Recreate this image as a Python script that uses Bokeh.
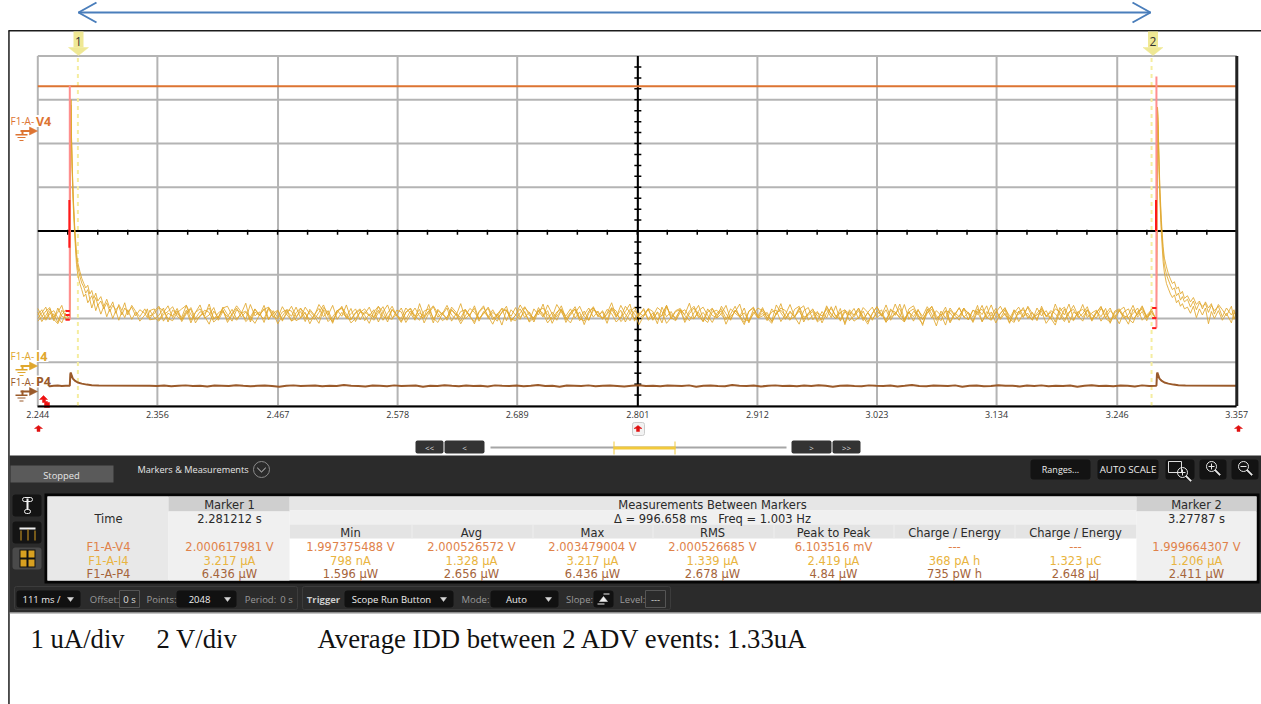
from bokeh.embed import file_html
from bokeh.resources import INLINE
from bokeh.plotting import figure
from bokeh.core.properties import value
from bokeh.models import Range1d, FixedTicker, LinearAxis
import numpy as np

# ---------- data ----------
tick_vals = [2.244, 2.355, 2.467, 2.578, 2.689, 2.801, 2.912, 3.023, 3.134, 3.246, 3.357]
tick_labels = ["2.244", "2.356", "2.467", "2.578", "2.689", "2.801", "2.912", "3.023", "3.134", "3.246", "3.357"]
marker_times = [2.281212, 3.27787]
trigger_times = [2.2737, 3.2824]
v4_t = [2.244, 3.357]
v4_v = [2.0005, 2.0005]

i4_pre_a = [1.30, 1.42, 1.21, 1.38, 1.17, 1.46, 1.27, 1.23]
i4_pre_b = [1.22, 1.35, 1.48, 1.19, 1.33, 1.13, 1.41, 1.29]
i4_pre_c = [1.37, 1.15, 1.29, 1.44, 1.25, 1.36, 1.52, 1.20]
i4_pre_d = [1.45, 1.28, 1.18, 1.33, 1.40, 1.24, 1.12, 1.35]
i4_pre_e = [1.16, 1.26, 1.39, 1.47, 1.20, 1.10, 1.31, 1.42]

decay_dt = [0, .0010, .0016, .0023, .0032, .0046, .0062, .0074, .0093, .0111, .0130, .0148, .0167, .0186, .0204,
            .0223, .0241, .0260, .0288, .0316, .0343, .0371, .0399, .0427, .0455, .0483, .0510, .0538, .0575,
            .0612, .0650, .0696, .0720, .0742]
d1_a = [1.23, 6.22, 5.30, 4.62, 3.93, 3.22, 2.61, 2.38, 2.19, 2.03, 1.94, 1.80, 1.88, 1.66, 1.74, 1.58, 1.70, 1.52,
        1.62, 1.44, 1.58, 1.38, 1.52, 1.42, 1.50, 1.30, 1.46, 1.36, 1.48, 1.28, 1.42, 1.34, 1.24, 1.40]
d1_b = [1.23, 6.22, 5.24, 4.50, 3.80, 3.10, 2.46, 2.22, 2.02, 1.88, 1.72, 1.78, 1.58, 1.66, 1.46, 1.60, 1.40, 1.54,
        1.32, 1.50, 1.26, 1.44, 1.22, 1.40, 1.18, 1.38, 1.24, 1.42, 1.20, 1.36, 1.16, 1.30, 1.44, 1.21]
d1_c = [1.20, 6.10, 5.36, 4.70, 4.00, 3.30, 2.72, 2.50, 2.30, 2.14, 2.02, 1.92, 1.98, 1.78, 1.86, 1.68, 1.80, 1.62,
        1.72, 1.50, 1.66, 1.46, 1.60, 1.34, 1.54, 1.40, 1.58, 1.30, 1.52, 1.38, 1.26, 1.44, 1.32, 1.19]
d2_a = [1.18, 6.05, 5.60, 4.85, 4.10, 3.32, 2.74, 2.44, 2.22, 2.10, 1.98, 1.88, 1.92, 1.74, 1.80, 1.64, 1.72, 1.60,
        1.66, 1.48, 1.62, 1.42, 1.58, 1.50, 1.56, 1.36, 1.52, 1.40, 1.50, 1.26, 1.46, 1.30, 1.42, 1.22]
d2_b = [1.18, 6.05, 5.50, 4.70, 3.92, 3.14, 2.52, 2.26, 2.02, 1.90, 1.78, 1.70, 1.76, 1.58, 1.64, 1.50, 1.56, 1.44,
        1.48, 1.34, 1.50, 1.24, 1.44, 1.30, 1.46, 1.10, 1.38, 1.22, 1.40, 1.18, 1.34, 1.12, 1.36, 1.28]
d2_c = [1.22, 6.00, 5.66, 4.96, 4.22, 3.46, 2.86, 2.60, 2.40, 2.24, 2.12, 2.02, 2.06, 1.90, 1.94, 1.78, 1.84, 1.68,
        1.74, 1.60, 1.70, 1.54, 1.62, 1.44, 1.60, 1.46, 1.56, 1.32, 1.54, 1.42, 1.28, 1.50, 1.20, 1.38]

i4_mid_a = [1.32,1.44,1.19,1.36,1.51,1.24,1.40,1.15,1.33,1.47,1.22,1.38,1.28,1.55,1.20,1.35,1.42,1.13,1.30,1.46,
            1.25,1.37,1.18,1.43,1.29,1.52,1.21,1.34,1.41,1.16,1.39,1.27,1.48,1.23,1.36,1.10,1.31,1.45,1.26,1.40,
            1.17,1.35,1.50,1.22,1.33,1.44,1.19,1.38,1.28,1.42,1.14,1.37,1.53,1.24,1.30,1.46,1.20,1.39,1.27,1.43,
            1.12,1.34,1.49,1.25,1.36,1.18,1.41,1.29,1.56,1.21,1.32,1.45,1.16,1.38,1.26,1.42,1.23,1.35,1.50,1.15,
            1.30,1.44,1.24,1.37,1.19,1.47,1.28,1.40,1.11,1.33,1.51,1.22,1.36,1.43,1.17,1.31,1.46,1.25,1.39,1.20,
            1.34,1.58,1.26,1.41,1.14,1.35,1.48,1.23,1.30,1.44,1.18,1.37,1.27,1.52,1.21,1.38,1.42,1.13,1.33,1.46,
            1.24,1.36,1.19,1.45,1.29,1.40,1.09,1.32,1.50,1.25,1.35,1.16,1.43,1.28,1.47,1.22,1.37,1.41,1.15,1.31,
            1.54,1.26,1.39,1.20,1.34,1.44,1.17,1.38,1.23,1.49,1.27,1.36,1.12,1.42,1.30,1.46,1.21,1.35,1.18,1.40,
            1.28,1.53,1.24,1.33,1.45,1.14,1.37,1.26,1.43,1.19,1.39,1.50,1.22,1.32,1.07,1.41,1.29,1.47,1.25,1.36,
            1.16,1.44,1.31,1.51,1.20,1.38,1.23,1.42,1.13,1.35,1.48,1.27,1.34,1.18,1.46,1.28,1.40,1.21,1.55,1.30,
            1.15,1.37,1.43,1.24,1.33,1.49,1.19,1.39,1.26,1.45,1.11,1.36,1.41,1.22,1.31,1.52,1.25,1.38,1.17,1.44]
i4_mid_b = [1.25,1.39,1.50,1.16,1.34,1.28,1.45,1.20,1.41,1.12,1.36,1.53,1.23,1.30,1.47,1.18,1.38,1.26,1.43,1.21,
            1.33,1.57,1.14,1.37,1.29,1.44,1.19,1.40,1.24,1.49,1.31,1.17,1.35,1.46,1.22,1.39,1.27,1.11,1.42,1.30,
            1.52,1.20,1.36,1.25,1.45,1.15,1.38,1.32,1.48,1.23,1.41,1.18,1.34,1.50,1.28,1.13,1.37,1.44,1.21,1.35,
            1.26,1.54,1.19,1.40,1.31,1.46,1.16,1.33,1.24,1.43,1.29,1.10,1.38,1.51,1.22,1.36,1.27,1.45,1.17,1.42,
            1.30,1.20,1.47,1.35,1.14,1.39,1.25,1.53,1.32,1.18,1.41,1.28,1.44,1.23,1.37,1.08,1.34,1.49,1.26,1.40,
            1.19,1.46,1.31,1.22,1.38,1.55,1.16,1.35,1.27,1.43,1.21,1.36,1.12,1.48,1.30,1.24,1.42,1.18,1.39,1.50,
            1.28,1.15,1.37,1.45,1.23,1.33,1.52,1.20,1.41,1.29,1.13,1.38,1.46,1.25,1.34,1.17,1.44,1.31,1.56,1.22,
            1.36,1.26,1.09,1.40,1.47,1.19,1.35,1.28,1.43,1.24,1.51,1.16,1.37,1.30,1.45,1.21,1.39,1.14,1.33,1.49,
            1.27,1.42,1.18,1.36,1.25,1.54,1.20,1.38,1.32,1.06,1.44,1.23,1.40,1.29,1.48,1.15,1.35,1.26,1.46,1.19,
            1.41,1.31,1.52,1.22,1.37,1.12,1.34,1.45,1.28,1.17,1.39,1.24,1.50,1.33,1.21,1.43,1.27,1.36,1.14,1.47,
            1.30,1.55,1.19,1.38,1.25,1.42,1.16,1.35,1.48,1.23,1.40,1.29,1.10,1.37,1.44,1.20,1.33,1.51,1.26,1.39]
i4_mid_c = [1.38,1.21,1.29,1.46,1.14,1.41,1.33,1.25,1.52,1.18,1.36,1.44,1.27,1.09,1.39,1.23,1.48,1.31,1.16,1.42,
            1.35,1.20,1.54,1.28,1.37,1.13,1.45,1.24,1.40,1.19,1.33,1.50,1.26,1.38,1.15,1.43,1.30,1.22,1.47,1.35,
            1.11,1.41,1.27,1.53,1.20,1.36,1.44,1.17,1.32,1.25,1.49,1.38,1.14,1.42,1.29,1.22,1.46,1.34,1.18,1.56,
            1.26,1.39,1.12,1.43,1.31,1.23,1.48,1.36,1.16,1.40,1.28,1.51,1.21,1.35,1.45,1.19,1.33,1.07,1.41,1.27,
            1.47,1.24,1.38,1.15,1.44,1.30,1.55,1.20,1.36,1.26,1.42,1.13,1.34,1.49,1.23,1.39,1.18,1.46,1.29,1.37,
            1.11,1.43,1.25,1.52,1.32,1.17,1.40,1.28,1.45,1.21,1.35,1.10,1.48,1.26,1.38,1.19,1.42,1.31,1.57,1.22,
            1.36,1.15,1.44,1.29,1.24,1.50,1.33,1.18,1.41,1.27,1.46,1.12,1.37,1.23,1.43,1.30,1.16,1.53,1.35,1.20,
            1.39,1.25,1.47,1.14,1.34,1.42,1.28,1.19,1.51,1.31,1.22,1.45,1.08,1.38,1.26,1.40,1.17,1.36,1.48,1.24,
            1.33,1.13,1.44,1.29,1.55,1.21,1.37,1.16,1.41,1.27,1.49,1.32,1.05,1.39,1.23,1.46,1.30,1.18,1.43,1.35,
            1.25,1.52,1.14,1.38,1.28,1.45,1.20,1.34,1.11,1.42,1.31,1.47,1.22,1.36,1.17,1.50,1.26,1.40,1.33,1.19,
            1.44,1.12,1.37,1.29,1.54,1.24,1.35,1.41,1.16,1.32,1.46,1.21,1.39,1.27,1.09,1.43,1.30,1.48,1.23,1.36]
i4_mid_d = [1.28,1.33,1.47,1.40,1.22,1.17,1.35,1.44,1.52,1.31,1.20,1.26,1.41,1.36,1.14,1.24,1.46,1.50,1.29,1.18,
            1.34,1.39,1.25,1.11,1.30,1.43,1.48,1.27,1.21,1.37,1.42,1.16,1.23,1.45,1.33,1.19,1.28,1.54,1.38,1.15,
            1.26,1.40,1.47,1.32,1.12,1.22,1.36,1.44,1.29,1.18,1.35,1.49,1.24,1.20,1.41,1.37,1.13,1.30,1.46,1.27,
            1.23,1.39,1.51,1.34,1.17,1.25,1.43,1.31,1.10,1.28,1.45,1.36,1.21,1.33,1.48,1.26,1.16,1.38,1.42,1.19,
            1.29,1.53,1.35,1.14,1.24,1.40,1.46,1.30,1.20,1.37,1.44,1.23,1.12,1.34,1.50,1.27,1.18,1.41,1.36,1.22,
            1.31,1.47,1.39,1.15,1.25,1.43,1.33,1.08,1.28,1.45,1.38,1.19,1.30,1.52,1.24,1.17,1.36,1.42,1.26,1.21,
            1.40,1.48,1.29,1.13,1.34,1.44,1.22,1.27,1.37,1.55,1.20,1.16,1.32,1.46,1.39,1.23,1.11,1.35,1.41,1.28,
            1.18,1.43,1.50,1.25,1.30,1.38,1.14,1.24,1.47,1.33,1.21,1.36,1.42,1.17,1.29,1.45,1.26,1.09,1.34,1.49,
            1.31,1.19,1.40,1.37,1.23,1.15,1.44,1.51,1.27,1.22,1.35,1.43,1.18,1.28,1.39,1.12,1.32,1.46,1.25,1.20,
            1.41,1.36,1.16,1.30,1.53,1.24,1.33,1.47,1.21,1.13,1.38,1.42,1.27,1.19,1.34,1.45,1.29,1.23,1.07,1.40,
            1.48,1.26,1.17,1.37,1.43,1.31,1.20,1.35,1.50,1.22,1.14,1.39,1.44,1.28,1.24,1.33,1.46,1.18,1.30,1.41]
i4_mid_e = [1.41,1.24,1.16,1.31,1.38,1.49,1.27,1.19,1.36,1.43,1.12,1.29,1.34,1.46,1.22,1.26,1.40,1.18,1.33,1.51,
            1.37,1.15,1.25,1.44,1.30,1.21,1.47,1.35,1.10,1.28,1.42,1.39,1.17,1.23,1.48,1.32,1.20,1.36,1.53,1.27,
            1.14,1.40,1.45,1.24,1.19,1.34,1.41,1.29,1.11,1.37,1.50,1.26,1.22,1.43,1.31,1.16,1.35,1.46,1.28,1.18,
            1.39,1.44,1.23,1.13,1.33,1.52,1.30,1.20,1.38,1.42,1.25,1.15,1.36,1.47,1.27,1.09,1.32,1.45,1.40,1.21,
            1.17,1.35,1.49,1.29,1.24,1.41,1.34,1.12,1.26,1.54,1.37,1.19,1.30,1.44,1.22,1.16,1.39,1.46,1.28,1.23,
            1.43,1.33,1.14,1.25,1.50,1.36,1.20,1.31,1.42,1.18,1.27,1.47,1.38,1.11,1.24,1.40,1.45,1.29,1.17,1.35,
            1.52,1.22,1.13,1.37,1.41,1.30,1.19,1.44,1.34,1.26,1.08,1.39,1.48,1.23,1.28,1.36,1.15,1.32,1.46,1.40,
            1.21,1.25,1.43,1.51,1.18,1.29,1.38,1.12,1.35,1.45,1.27,1.20,1.41,1.33,1.16,1.24,1.47,1.36,1.22,1.31,
            1.42,1.14,1.26,1.55,1.30,1.19,1.37,1.44,1.23,1.10,1.34,1.49,1.28,1.17,1.40,1.35,1.21,1.27,1.46,1.32,
            1.13,1.38,1.43,1.25,1.18,1.36,1.50,1.29,1.22,1.41,1.15,1.33,1.47,1.24,1.30,1.39,1.11,1.26,1.44,1.37,
            1.20,1.34,1.52,1.28,1.16,1.42,1.31,1.23,1.45,1.35,1.19,1.27,1.40,1.48,1.21,1.12,1.38,1.43,1.25,1.33]

p4_mid = [2.6,2.5,2.7,2.4,2.6,2.8,2.5,2.6,2.3,2.7,2.6,2.5,2.9,2.6,2.4,2.6,2.7,2.5,2.2,2.6,
          2.8,2.5,2.6,2.7,2.4,2.6,2.5,3.0,2.6,2.5,2.3,2.7,2.6,2.4,2.8,2.5,2.6,2.7,2.2,2.6,
          2.5,2.9,2.6,2.4,2.7,2.5,2.6,2.3,2.8,2.6,2.5,2.7,2.4,2.6,3.0,2.5,2.6,2.2,2.7,2.6,
          2.5,2.8,2.4,2.6,2.7,2.5,2.3,2.6,2.9,2.5,2.6,2.4,2.7,2.6,2.5,2.8,2.2,2.6,2.7,2.5,
          2.4,3.0,2.6,2.5,2.7,2.3,2.6,2.8,2.5,2.6,2.4,2.7,2.5,2.9,2.6,2.2,2.6,2.7,2.5,2.4,
          2.8,2.6,2.5,2.7,2.3,2.6,3.0,2.5,2.4,2.7,2.6,2.5,2.8,2.2,2.6,2.7,2.4,2.5,2.9,2.6,
          2.6,2.3,2.7,2.5,2.8,2.4,2.6,2.5,2.7,2.2,2.6,2.9,2.5,2.6,2.4,2.7,2.6,2.3,2.8,2.5]
p4_pre = [2.6, 2.5, 2.7, 2.4, 2.6, 2.7, 2.5, 2.6]
p4_dt = [0, .0005, .0009, .0019, .0028, .0046, .0074, .0111, .0158, .0204, .0269, .0742]
p4_peak = [2.6, 8.0, 8.64, 7.1, 5.9, 5.0, 4.1, 3.6, 3.15, 2.9, 2.7, 2.6]

red_top = [6.54, 6.75]
red_low = [1.19, 1.01]
red_solid_top = [3.93, 3.93]
red_solid_low = [2.84, 3.22]
rung_1 = [1.39, 1.30, 1.19]
rung_2 = [1.46, 1.23, 1.00]

# ---------- scales: the page-sized frame is in pixels, signals use named ranges ----------
T0, T1 = 2.244, 3.357
W, H = 1261, 704
PX_L, PX_R, PX_T, PX_B = 37.3, 1236.3, 55.5, 405.5      # plot area on the page
DIV = (PX_B - PX_T) / 8
SEC = (T1 - T0) / (PX_R - PX_L)

p = figure(width=W, height=H, output_backend="svg", toolbar_location=None,
           x_range=Range1d(0, W), y_range=Range1d(H, 0), x_axis_location=None, y_axis_location=None,
           min_border=0, background_fill_color="white", border_fill_color="white", outline_line_color=None)
p.grid.visible = False
I_BOT = -0.78
p.extra_x_ranges = {"t": Range1d(T0 - PX_L * SEC, T1 + (W - PX_R) * SEC)}
p.extra_y_ranges = {
    "i": Range1d(I_BOT - (H - PX_B) / DIV, I_BOT + PX_B / DIV),                 # 1 uA/div
    "v": Range1d(2 * (129.5 - H) / DIV, 2 * 129.5 / DIV),                       # 2 V/div
    "p": Range1d(20 * (391 - H) / DIV, 20 * 391 / DIV),                         # 20 uW/div
}
I_TOP = I_BOT + 8
TI = dict(x_range_name="t", y_range_name="i")


def box(l, t, r, b, color, radius=0, line=None, lw=1):
    p.quad(left=[l], right=[r], top=[t], bottom=[b], fill_color=color or "white", fill_alpha=1 if color else 0,
           line_color=line, line_width=lw, border_radius=radius)


def poly(xs, ys, color):
    p.patch(xs, ys, fill_color=color, line_color=color, line_width=0.5)


def txt(x, y, s, color="#222222", size=11.5, align="center", bold=False, font="DejaVu Sans"):
    p.text([x], [y], text=[s], text_color=color, text_font=value(font), text_font_size=f"{size}px",
           text_align=align, text_baseline="middle", text_font_style="bold" if bold else "normal")


UI = "Open Sans"
# graticule
GRID = "#b4b4b4"
yg = [I_BOT + k for k in range(9)]
p.segment(tick_vals, [I_BOT] * len(tick_vals), tick_vals, [I_TOP] * len(tick_vals), line_color=GRID, line_width=2, **TI)
p.segment([T0] * len(yg), yg, [T1] * len(yg), yg, line_color=GRID, line_width=2, **TI)

# markers
for tm in marker_times:
    p.segment([tm], [I_BOT], [tm], [I_TOP], line_color="#f5eda0", line_width=2, line_dash="4 4", **TI)

# centre cross
MID_T = tick_vals[5]
MID_I = I_BOT + 4
p.segment([MID_T], [I_BOT], [MID_T], [I_TOP], line_color="black", line_width=2, **TI)
p.segment([T0], [MID_I], [T1], [MID_I], line_color="black", line_width=2, **TI)
yt = [I_BOT + k * 0.25 for k in range(1, 32)]
xt = [T0 + k * (T1 - T0) / 40 for k in range(1, 40)]
p.scatter([MID_T] * len(yt), yt, marker="dash", size=7, line_color="black", line_width=1.5, **TI)
p.scatter(xt, [MID_I - 0.03] * len(xt), marker="dash", size=5, angle=np.pi / 2, line_color="black", line_width=1.5, **TI)

# ---------- traces ----------
C_V, C_I, C_P = "#dd7432", "#e0a72d", "#9a5a2a"
mid_end = trigger_times[1] - 0.0005
mid_start = trigger_times[0] + decay_dt[-1]
sets = ((i4_pre_a, i4_mid_a, d1_a, d2_a), (i4_pre_b, i4_mid_b, d1_b, d2_b), (i4_pre_c, i4_mid_c, d1_c, d2_c))
for pre, mid, d1, d2 in sets:
    ts = np.concatenate([np.linspace(T0, trigger_times[0], len(pre), endpoint=False),
                         np.array(decay_dt) + trigger_times[0],
                         np.linspace(mid_start, mid_end, len(mid), endpoint=False)[1:],
                         np.array(decay_dt) + trigger_times[1]])
    ys = list(pre) + list(d1) + list(mid[1:]) + list(d2)
    p.line(ts, ys, line_color=C_I, line_width=1, line_alpha=0.85, **TI)
for pre, mid in ((i4_pre_d, i4_mid_d), (i4_pre_e, i4_mid_e)):
    p.line(np.linspace(T0, trigger_times[0], len(pre), endpoint=False), pre, line_color=C_I, line_width=1, line_alpha=0.85, **TI)
    p.line(np.linspace(mid_start, mid_end, len(mid), endpoint=False), mid, line_color=C_I, line_width=1, line_alpha=0.85, **TI)

p.line(v4_t, v4_v, line_color=C_V, line_width=2, x_range_name="t", y_range_name="v")

tp = np.concatenate([np.linspace(T0, trigger_times[0], len(p4_pre), endpoint=False),
                     np.array(p4_dt) + trigger_times[0],
                     np.linspace(trigger_times[0] + p4_dt[-1], trigger_times[1], len(p4_mid), endpoint=False)[1:],
                     np.array(p4_dt) + trigger_times[1], [T1]])
vp = list(p4_pre) + list(p4_peak) + list(p4_mid[1:]) + list(p4_peak) + [p4_pre[0]]
p.line(tp, vp, line_color=C_P, line_width=2, x_range_name="t", y_range_name="p")

# red trigger lines, on top of the traces
RED = "#ff1a1a"
for k, (tr, top, low) in enumerate(zip(trigger_times, red_top, red_low)):
    p.segment([tr], [low], [tr], [top], line_color="#ff8f8f", line_width=2, **TI)
    p.segment([tr - 0.0004], [red_solid_low[k]], [tr - 0.0004], [red_solid_top[k]], line_color=RED, line_width=2, **TI)
for tr, rung in zip(trigger_times, (rung_1, rung_2)):
    p.segment([tr - 0.004] * 3, rung, [tr] * 3, rung, line_color=RED, line_width=2, **TI)

# right edge and time axis
p.segment([T1], [I_BOT], [T1], [I_TOP], line_color="#222222", line_width=3, **TI)
ax = LinearAxis(x_range_name="t", fixed_location=PX_B, ticker=FixedTicker(ticks=tick_vals),
                major_label_overrides=dict(zip(tick_vals, tick_labels)), bounds=(T0, T1))
ax.major_tick_line_color = None
ax.major_tick_out = 0
ax.major_tick_in = 0
ax.minor_tick_line_color = None
ax.axis_line_color = "black"
ax.axis_line_width = 2
ax.major_label_text_font = UI
ax.major_label_text_font_size = "9px"
ax.major_label_text_color = "#333333"
ax.major_label_standoff = 5
p.add_layout(ax, "below")

# ---------- window chrome, in page pixels ----------
BLUE = "#4a7ebb"
p.line([78, 1150], [12, 12], line_color=BLUE, line_width=2)
p.line([96, 78, 96], [2, 12, 22], line_color=BLUE, line_width=2)
p.line([1132, 1150, 1132], [2, 12, 22], line_color=BLUE, line_width=2)
box(8, 29.5, 1261, 31, "#1c1c1c")
box(7.7, 30, 9.2, 704, "#1c1c1c")
# marker flags
for cx, s in ((78, "1"), (1152.5, "2")):
    box(cx - 5, 31, cx + 5, 47, "#efe894")
    poly([cx - 10, cx + 10, cx], [47, 47, 55], "#efe894")
    txt(cx, 41, s, "#333333", 12, font=UI)
# channel labels
for y, name, col in ((120.5, "V4", C_V), (355.5, "I4", C_I), (381, "P4", C_P)):
    box(35, y - 6, 48, y + 6, "#ffffff")
    txt(10, y, "F1-A-", col, 10, "left", font=UI)
    txt(35.5, y, name, col, 12.5, "left", True, font=UI)
for y, col in ((130.5, C_V), (365.5, C_I), (391, C_P)):
    box(20, y - 1, 31, y + 1, col)
    poly([29, 37, 29], [y - 4, y, y + 4], col)
    box(21, y - 1, 23, y + 4, col)
    box(15, y + 3, 27, y + 4.5, col)
    box(17, y + 6, 25, y + 7, col)
    box(19, y + 9, 23, y + 10, col)
# red return arrow and trigger carets
poly([39, 43, 47, 45, 45, 47, 47, 49, 49, 44, 44, 42, 42, 39],
     [399, 395, 399, 399, 401, 401, 402, 402, 407, 407, 402, 402, 399, 399], "#ee1111")
box(632, 422, 644, 435, "#f2f2f2", 2, "#cccccc")
for cx in (38, 637.5, 1238):
    poly([cx - 4, cx, cx + 4, cx + 1.5, cx + 1.5, cx - 1.5, cx - 1.5], [428, 425, 428, 428, 431, 431, 428], "#e01010")
# scrollbar
box(490, 446, 786, 448, "#a6a6a6")
for l, r, s in ((415, 443, "<<"), (444, 484, "<"), (791, 831, ">"), (832, 860, ">>")):
    box(l, 440, r, 453, "#333333", 2)
    txt((l + r) / 2, 446.5, s, "#dddddd", 8, font=UI)
box(613, 446, 675, 449, "#f2c93c")
box(613, 441, 614, 454, "#f2c93c")
box(674, 441, 675, 454, "#f2c93c")
# dark panel
box(9, 455, 1261, 612, "#2b2b2b")
box(9, 612, 1261, 613, "#8a8a8a")
box(10, 465, 113, 482, "#5a5a5a")
txt(61, 474.5, "Stopped", "#e6e6e6", 9.4, font=UI)
txt(137, 469, "Markers & Measurements", "#e6e6e6", 9.2, "left", font=UI)
box(253, 461, 269, 477, None, 8, "#8a8a8a")
poly([257, 261, 265, 265, 261, 257], [467, 471, 467, 468, 472, 468], "#999999")
for l, r, s, fs in ((1030, 1090, "Ranges...", 9), (1097, 1158, "AUTO SCALE", 9.7)):
    box(l, 459, r, 479, "#131313", 3)
    txt((l + r) / 2, 469, s, "#eeeeee", fs, font=UI)
for l, r in ((1165, 1194), (1199, 1226), (1231, 1258)):
    box(l, 459, r, 479, "#131313", 3)
box(1168, 461, 1181, 472, None, 0, "#dddddd")
for cx, cy in ((1182, 472), (1211, 466), (1243, 466)):
    box(cx - 5, cy - 5, cx + 5, cy + 5, None, 5, "#e8e8e8")
    poly([cx + 3, cx + 4, cx + 9, cx + 8], [cy + 4, cy + 3, cy + 8, cy + 9], "#e8e8e8")
    box(cx - 3, cy - 0.5, cx + 3, cy + 0.5, "#e8e8e8")
for cx, cy in ((1182, 472), (1211, 466)):
    box(cx - 0.5, cy - 3, cx + 0.5, cy + 3, "#e8e8e8")
# side buttons
box(12, 494, 41, 516, "#141414", 3)
box(12, 521, 41, 543, "#141414", 3)
box(12, 547, 41, 569, "#4a4a4a", 3)
box(26, 498, 28, 509, "#f0f0f0")
box(22, 497, 32, 501, None, 2, "#f0f0f0")
box(24, 509, 30, 513, None, 2, "#f0f0f0")
box(19, 527, 35, 529, "#f0f0f0")
box(27, 529, 28, 540, "#d8a020")
box(20, 530, 21, 540, "#d8a020")
box(34, 530, 35, 540, "#d8a020")
box(19, 549, 35, 567, "#111111")
for l, t in ((20, 550), (28, 550), (20, 559), (28, 559)):
    box(l, t, l + 6, t + 7, "#d8a020")
# table
box(44, 493, 1259, 583, "#050505")
box(47, 496, 1256, 580, "#ffffff")
box(47, 496, 168, 580, "#e8e8e8")
box(289, 496, 1136, 510, "#e6e6e6")
box(289, 510, 1136, 524, "#f0f0f0")
box(289, 524, 1136, 538, "#e4e4e4")
for l, r in ((168, 289), (1136, 1256)):
    box(l, 496, r, 511, "#cfcfcf")
    box(l, 511, r, 580, "#f0f0f0")
for x in (411, 532, 652, 773, 893, 1014):
    box(x, 524, x + 1, 538, "#ededed")
T = "#2a2a2a"
txt(229, 504, "Marker 1", T)
txt(712, 504, "Measurements Between Markers", T)
txt(1196, 504, "Marker 2", T)
txt(108, 518, "Time", T)
txt(229, 518, "2.281212 s", T)
txt(712, 518, "Δ = 996.658 ms\u00a0\u00a0\u00a0Freq = 1.003 Hz", T)
txt(1196, 518, "3.27787 s", T)

col_x = [108, 229, 350, 471, 592, 712, 833, 954, 1075, 1196]
heads = ["Min", "Avg", "Max", "RMS", "Peak to Peak", "Charge / Energy", "Charge / Energy"]
for x, s in zip(col_x[2:9], heads):
    txt(x, 532, s, T)
rows = [
    ("F1-A-V4", "2.000617981 V", "1.997375488 V", "2.000526572 V", "2.003479004 V", "2.000526685 V", "6.103516 mV", "---", "---", "1.999664307 V"),
    ("F1-A-I4", "3.217 µA", "798 nA", "1.328 µA", "3.217 µA", "1.339 µA", "2.419 µA", "368 pA h", "1.323 µC", "1.206 µA"),
    ("F1-A-P4", "6.436 µW", "1.596 µW", "2.656 µW", "6.436 µW", "2.678 µW", "4.84 µW", "735 pW h", "2.648 µJ", "2.411 µW"),
]
for y, row, col in zip((546, 560, 573.5), rows, ("#e0824a", "#e9b440", "#a5643a")):
    for x, s in zip(col_x, row):
        txt(x, y, s, col)
# bottom bar
for l, r in ((14, 297), (302, 670)):
    box(l, 586, r, 609, None, 2, "#3c3c3c")
for l, r in ((16, 80), (176, 236), (344, 453), (490, 558), (593, 613)):
    box(l, 590, r, 607, "#111111", 3)
for x in (70, 227, 443, 548):
    poly([x - 3, x + 3, x], [597, 597, 601], "#d8d8d8")
box(119, 590, 139, 607, None, 0, "#555555")
box(645, 590, 665, 607, None, 0, "#555555")
G = "#9a9a9a"
for x, s, c in ((41, "111 ms /", "#eeeeee"), (104, "Offset:", G), (129, "0 s", "#dddddd"), (161, "Points:", G),
                (199, "2048", "#eeeeee"), (260, "Period:", G), (286, "0 s", G), (391, "Scope Run Button", "#eeeeee"),
                (475, "Mode:", G), (516, "Auto", "#eeeeee"), (579, "Slope:", G), (632, "Level:", G), (655, "---", "#dddddd")):
    txt(x, 598.5, s, c, 9.5, font=UI)
txt(323, 598.5, "Trigger", "#cccccc", 9.5, bold=True, font=UI)
poly([599, 603, 607], [601, 596, 601], "#eeeeee")
box(597, 603, 604, 604, "#eeeeee")
box(603, 593, 609, 594, "#eeeeee")
# note below
NOTE = "Liberation Serif"
txt(30, 638, "1 uA/div", "#111111", 26.7, "left", font=NOTE)
txt(156, 638, "2 V/div", "#111111", 26.7, "left", font=NOTE)
txt(317, 638, "Average IDD between 2 ADV events: 1.33uA", "#111111", 26.7, "left", font=NOTE)

open("out.html", "w").write(file_html(p, INLINE))
